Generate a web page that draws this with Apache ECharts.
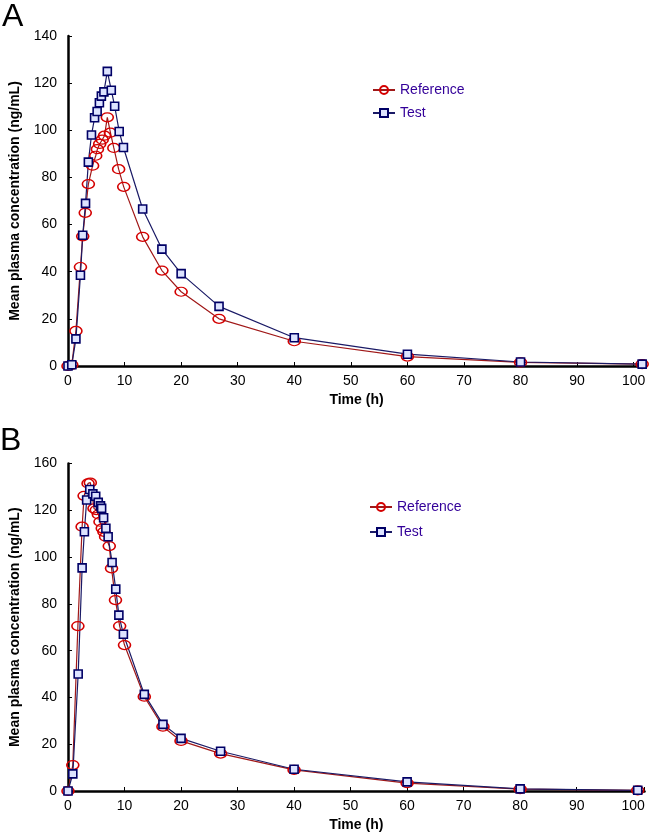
<!DOCTYPE html>
<html>
<head>
<meta charset="utf-8">
<script src="https://cdn.jsdelivr.net/npm/echarts@6/dist/echarts.min.js"></script>
<style>
html,body{margin:0;padding:0;background:#fff;}
#chart{width:650px;height:838px;}
</style>
</head>
<body>
<div id="chart"></div>
<script>
// ---- Panel A data ----
const timeA_ref = [0, 0.67, 1.4, 2.2, 2.6, 3.05, 3.6, 4.35, 4.9, 5.2, 5.6, 6.05, 6.45, 6.95, 7.5, 8.1, 8.95, 9.85, 13.2, 16.6, 20, 26.7, 40, 60, 80, 101.5];
const concA_ref = [0, 0.5, 14.9, 42, 55, 65, 77.2, 85, 89.2, 92, 94.2, 96, 97.7, 105.5, 99, 92.5, 83.5, 76, 54.8, 40.5, 31.5, 20, 10.5, 4, 1.5, 0.8];
const timeA_test = [0, 0.67, 1.4, 2.2, 2.6, 3.1, 3.6, 4.15, 4.7, 5.15, 5.55, 5.9, 6.35, 6.95, 7.65, 8.25, 9.05, 9.8, 13.2, 16.6, 20, 26.7, 40, 60, 80, 101.5];
const concA_test = [0, 0.5, 11.5, 38.5, 55.5, 69, 86.5, 98, 105.3, 108, 111.7, 114.5, 116.3, 125, 117, 110.2, 99.5, 92.7, 66.6, 49.6, 39.2, 25.3, 12, 5, 1.7, 0.8];

// ---- Panel B data ----
const timeB_ref = [0, 0.85, 1.75, 2.5, 2.85, 3.55, 3.95, 4.6, 5.0, 5.37, 5.66, 6.06, 6.35, 6.65, 7.3, 7.7, 8.4, 9.14, 10.0, 13.5, 16.8, 20, 27, 40, 60, 80, 100.8];
const concB_ref = [0, 11.1, 70.5, 113, 126.2, 131.5, 131.8, 120.8, 120.1, 118.2, 115.1, 112.3, 110.8, 108.7, 104.7, 95.2, 81.6, 70.5, 62.4, 40.3, 27.5, 21.4, 16, 9, 3.4, 0.8, 0.3];
const timeB_test = [0, 0.85, 1.8, 2.5, 2.9, 3.3, 3.85, 4.4, 4.9, 5.35, 5.75, 5.95, 6.3, 6.7, 7.1, 7.8, 8.45, 9.0, 9.8, 13.5, 16.8, 20, 27, 40, 60, 80, 100.8];
const concB_test = [0, 7.3, 50, 95.4, 110.8, 124.4, 128.9, 127, 126, 123.4, 121.9, 120.8, 116.8, 112.3, 108.7, 97.7, 86.3, 75.2, 67, 41.3, 28.5, 22.5, 17, 9.3, 3.9, 0.9, 0.3];

// ---- tick labels ----
const xTickLabels = ['0','10','20','30','40','50','60','70','80','90','100'];
const yTickLabelsA = ['0','20','40','60','80','100','120','140'];
const yTickLabelsB = ['0','20','40','60','80','100','120','160'];
const seriesNames = ['Reference', 'Test'];

const FONT = 'Liberation Sans, Arial, sans-serif';

function pairs(t, v) { return t.map((x, i) => [x, v[i]]); }

function xAxisCfg(gridIndex) {
  return {
    gridIndex, type: 'value', min: 0, max: 102, interval: 10,
    name: 'Time (h)', nameLocation: 'middle', nameGap: 27,
    nameTextStyle: { fontFamily: FONT, fontWeight: 'bold', fontSize: 14, color: '#000' },
    axisLine: { show: true, onZero: false, lineStyle: { color: '#000', width: 2.5 } },
    axisTick: { show: true, inside: true, length: 4, lineStyle: { color: '#000', width: 1 } },
    splitLine: { show: false },
    axisLabel: {
      fontFamily: FONT, fontSize: 14, color: '#000', margin: 8,
      formatter: v => (v % 10 === 0 ? (xTickLabels[v / 10] || '') : '')
    }
  };
}
function yAxisCfg(gridIndex, labels) {
  return {
    gridIndex, type: 'value', min: 0, max: 140, interval: 20,
    name: 'Mean plasma concentration (ng/mL)', nameLocation: 'middle', nameGap: 46, nameRotate: 90,
    nameTextStyle: { fontFamily: FONT, fontWeight: 'bold', fontSize: 14, color: '#000' },
    axisLine: { show: true, onZero: false, lineStyle: { color: '#000', width: 2.5 } },
    axisTick: { show: true, inside: true, length: 4, lineStyle: { color: '#000', width: 1 } },
    splitLine: { show: false },
    axisLabel: {
      fontFamily: FONT, fontSize: 14, color: '#000', margin: 11,
      formatter: v => labels[Math.round(v / 20)] || ''
    }
  };
}
const refStyle = {
  symbol: 'circle', symbolSize: [12, 9],
  lineStyle: { color: '#a01818', width: 1.2 },
  itemStyle: { color: 'rgba(255,255,255,0)', borderColor: '#d40000', borderWidth: 1.4 }
};
const testStyle = {
  symbol: 'rect', symbolSize: [8, 8],
  lineStyle: { color: '#1a1a66', width: 1.2 },
  itemStyle: { color: '#dde3ff', borderColor: '#000066', borderWidth: 1.6 }
};
function series(name, style, xi, data) {
  return Object.assign({ type: 'line', name, xAxisIndex: xi, yAxisIndex: xi, data, showAllSymbol: true, animation: false }, style);
}

const chart = echarts.init(document.getElementById('chart'), null, { renderer: 'canvas' });
chart.setOption({
  animation: false,
  backgroundColor: '#fff',
  grid: [
    { left: 62, top: 36, width: 583, height: 330 },
    { left: 58.5, top: 463.5, width: 586, height: 327.5 }
  ],
  xAxis: [xAxisCfg(0), xAxisCfg(1)],
  yAxis: [yAxisCfg(0, yTickLabelsA), yAxisCfg(1, yTickLabelsB)],
  legend: [
    { data: seriesNames, orient: 'vertical', left: 367, top: 78, padding: 5, itemWidth: 22, itemHeight: 10, itemGap: 9,
      textStyle: { fontFamily: FONT, fontSize: 14, color: '#330099' } },
    { data: seriesNames, orient: 'vertical', left: 364, top: 495, padding: 5, itemWidth: 22, itemHeight: 10, itemGap: 11,
      textStyle: { fontFamily: FONT, fontSize: 14, color: '#330099' } }
  ],
  graphic: [
    { type: 'text', left: 2, top: 1, style: { text: 'A', font: '32px ' + FONT, fill: '#000' } },
    { type: 'text', left: 0, top: 425, style: { text: 'B', font: '32px ' + FONT, fill: '#000' } }
  ],
  series: [
    series(seriesNames[0], refStyle, 0, pairs(timeA_ref, concA_ref)),
    series(seriesNames[1], testStyle, 0, pairs(timeA_test, concA_test)),
    series(seriesNames[0], refStyle, 1, pairs(timeB_ref, concB_ref)),
    series(seriesNames[1], testStyle, 1, pairs(timeB_test, concB_test))
  ]
});
</script>
</body>
</html>
